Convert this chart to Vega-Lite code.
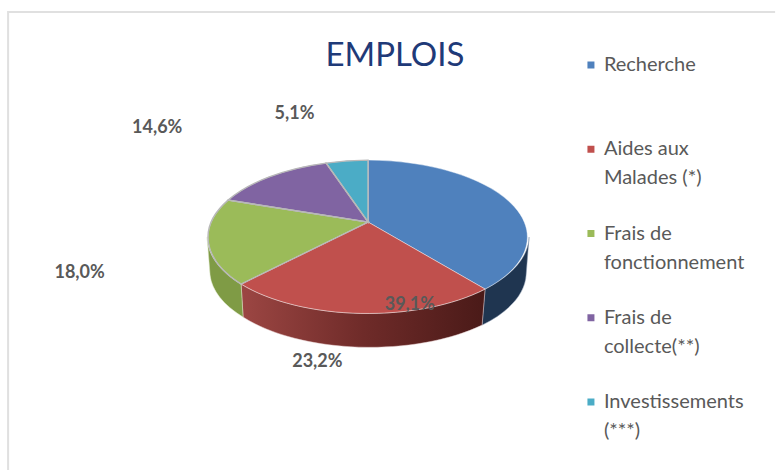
{
"$schema":"https://vega.github.io/schema/vega-lite/v6.json",
"width":777,"height":472,"padding":0,
"autosize":{"type":"fit","contains":"padding"},
"background":"#ffffff",
"view":{"stroke":null},
"config":{"font":"Lato"},
"datasets":{"postes":[
{"poste":"Recherche","part":39.1,"etiquette":"39,1%","rang":1},
{"poste":"Aides aux\nMalades (*)","part":23.2,"etiquette":"23,2%","rang":2},
{"poste":"Frais de\nfonctionnement","part":18.0,"etiquette":"18,0%","rang":3},
{"poste":"Frais de\ncollecte(**)","part":14.6,"etiquette":"14,6%","rang":4},
{"poste":"Investissements\n(***)","part":5.1,"etiquette":"5,1%","rang":5}
]},
"data":{"name":"postes"},
"resolve":{"scale":{"y":"independent"}},
"layer":[
{"mark":{"type":"point","filled":false,"size":4,"stroke":"#e0e0e0","strokeWidth":2,"opacity":1,"shape":"M-360,248L-360,-210L407,-210"},
 "transform":[{"filter":"datum.rang==1"}],
 "encoding":{"x":{"datum":370,"type":"quantitative","scale":{"domain":[0,777],"nice":false,"zero":false},"axis":null},
 "y":{"datum":224,"type":"quantitative","scale":{"domain":[0,472],"reverse":true,"nice":false,"zero":false},"axis":null}}},
{"mark":{"type":"point","filled":true,"size":4,"opacity":1,"fill":"#1f3550","stroke":"#8a9bb0","strokeWidth":0.5,"shape":"M161,15A161,77 0 0 1 117,67L114,103A158,75 0 0 0 158,53Z"},
 "transform":[{"filter":"datum.rang==1"}],
 "encoding":{"x":{"datum":370,"type":"quantitative","scale":{"domain":[0,777],"nice":false,"zero":false},"axis":null},
 "y":{"datum":224,"type":"quantitative","scale":{"domain":[0,472],"reverse":true,"nice":false,"zero":false},"axis":null}}},
{"mark":{"type":"point","filled":true,"size":4,"opacity":1,"stroke":"#e3c9c8","strokeWidth":0.5,"fill":{"gradient":"linear","x1":0,"x2":1,"y1":0,"y2":0,"stops":[{"offset":0,"color":"#9c4643"},{"offset":0.5,"color":"#6f2b29"},{"offset":1,"color":"#4a1a18"}]},"shape":"M117,67A161,77 0 0 1 -127,62L-125,95A158,75 0 0 0 114,103Z"},
 "transform":[{"filter":"datum.rang==2"}],
 "encoding":{"x":{"datum":370,"type":"quantitative","scale":{"domain":[0,777],"nice":false,"zero":false},"axis":null},
 "y":{"datum":224,"type":"quantitative","scale":{"domain":[0,472],"reverse":true,"nice":false,"zero":false},"axis":null}}},
{"mark":{"type":"point","filled":true,"size":4,"opacity":1,"stroke":"#dbe5c4","strokeWidth":0.5,"fill":"#7f9b45","shape":"M-127,62A161,77 0 0 1 -161,15L-158,53A158,75 0 0 0 -125,95Z"},
 "transform":[{"filter":"datum.rang==3"}],
 "encoding":{"x":{"datum":370,"type":"quantitative","scale":{"domain":[0,777],"nice":false,"zero":false},"axis":null},
 "y":{"datum":224,"type":"quantitative","scale":{"domain":[0,472],"reverse":true,"nice":false,"zero":false},"axis":null}}},
{"mark":{"type":"point","filled":true,"size":4,"opacity":1,"stroke":"#ffffff","strokeWidth":0.7,"strokeOpacity":0.6},
 "encoding":{"x":{"datum":370,"type":"quantitative","scale":{"domain":[0,777],"nice":false,"zero":false},"axis":null},
 "y":{"datum":224,"type":"quantitative","scale":{"domain":[0,472],"reverse":true,"nice":false,"zero":false},"axis":null},
 "fill":{"field":"poste","type":"nominal","legend":null,"sort":null,"scale":{"domain":["Recherche","Aides aux\nMalades (*)","Frais de\nfonctionnement","Frais de\ncollecte(**)","Investissements\n(***)"],"range":["#4f81bd","#c0504d","#9bbb59","#8064a2","#4bacc6"]}},
 "shape":{"field":"poste","type":"nominal","legend":null,"sort":null,"scale":{"domain":["Recherche","Aides aux\nMalades (*)","Frais de\nfonctionnement","Frais de\ncollecte(**)","Investissements\n(***)"],"range":["M0,0L0,-62A161,77 0 0 1 117,67Z","M0,0L117,67A161,77 0 0 1 -127,62Z","M0,0L-127,62A161,77 0 0 1 -140,-22Z","M0,0L-140,-22A161,77 0 0 1 -42,-59Z","M0,0L-42,-59A161,77 0 0 1 0,-62Z"]}}}},
{"mark":{"type":"point","filled":false,"size":4,"opacity":1,"stroke":"#b8b8b8","strokeWidth":1.4},
 "transform":[{"filter":"datum.rang>=3"}],
 "encoding":{"x":{"datum":370,"type":"quantitative","scale":{"domain":[0,777],"nice":false,"zero":false},"axis":null},
 "y":{"datum":224,"type":"quantitative","scale":{"domain":[0,472],"reverse":true,"nice":false,"zero":false},"axis":null},
 "shape":{"field":"poste","type":"nominal","legend":null,"sort":null,"scale":{"domain":["Frais de\nfonctionnement","Frais de\ncollecte(**)","Investissements\n(***)"],"range":["M-256,59L-245,59L-158,50","M-177,-90L-167,-90L-100,-47","M-45,-102L-34,-102L-20,-62"]}}}},
{"mark":{"type":"text","text":"EMPLOIS","font":"Lato","fontSize":33,"color":"#1f3a78"},
 "transform":[{"filter":"datum.rang==1"}],
 "encoding":{"x":{"datum":397,"type":"quantitative","scale":{"domain":[0,777],"nice":false,"zero":false},"axis":null},
 "y":{"datum":56,"type":"quantitative","scale":{"domain":[0,472],"reverse":true,"nice":false,"zero":false},"axis":null}}},
{"mark":{"type":"text","font":"Lato","fontWeight":"bold","fontSize":18,"color":"#595959"},
 "transform":[{"filter":"datum.rang==1"}],
 "encoding":{"text":{"field":"etiquette"},"x":{"datum":412,"type":"quantitative","scale":{"domain":[0,777],"nice":false,"zero":false},"axis":null},
 "y":{"datum":308,"type":"quantitative","scale":{"domain":[0,472],"reverse":true,"nice":false,"zero":false},"axis":null}}},
{"mark":{"type":"text","font":"Lato","fontWeight":"bold","fontSize":18,"color":"#595959"},
 "transform":[{"filter":"datum.rang==2"}],
 "encoding":{"text":{"field":"etiquette"},"x":{"datum":319,"type":"quantitative","scale":{"domain":[0,777],"nice":false,"zero":false},"axis":null},
 "y":{"datum":365,"type":"quantitative","scale":{"domain":[0,472],"reverse":true,"nice":false,"zero":false},"axis":null}}},
{"mark":{"type":"text","font":"Lato","fontWeight":"bold","fontSize":18,"color":"#595959"},
 "transform":[{"filter":"datum.rang==3"}],
 "encoding":{"text":{"field":"etiquette"},"x":{"datum":80,"type":"quantitative","scale":{"domain":[0,777],"nice":false,"zero":false},"axis":null},
 "y":{"datum":275,"type":"quantitative","scale":{"domain":[0,472],"reverse":true,"nice":false,"zero":false},"axis":null}}},
{"mark":{"type":"text","font":"Lato","fontWeight":"bold","fontSize":18,"color":"#595959"},
 "transform":[{"filter":"datum.rang==4"}],
 "encoding":{"text":{"field":"etiquette"},"x":{"datum":158,"type":"quantitative","scale":{"domain":[0,777],"nice":false,"zero":false},"axis":null},
 "y":{"datum":129,"type":"quantitative","scale":{"domain":[0,472],"reverse":true,"nice":false,"zero":false},"axis":null}}},
{"mark":{"type":"text","font":"Lato","fontWeight":"bold","fontSize":18,"color":"#595959"},
 "transform":[{"filter":"datum.rang==5"}],
 "encoding":{"text":{"field":"etiquette"},"x":{"datum":296,"type":"quantitative","scale":{"domain":[0,777],"nice":false,"zero":false},"axis":null},
 "y":{"datum":115,"type":"quantitative","scale":{"domain":[0,472],"reverse":true,"nice":false,"zero":false},"axis":null}}},
{"mark":{"type":"point","filled":true,"shape":"square","size":49,"opacity":1},
 "encoding":{"x":{"datum":594,"type":"quantitative","scale":{"domain":[0,777],"nice":false,"zero":false},"axis":null},
 "y":{"field":"rang","type":"quantitative","scale":{"domain":[1,5],"range":[65,402],"nice":false,"zero":false},"axis":null},
 "fill":{"field":"poste","type":"nominal","legend":null,"sort":null,"scale":{"domain":["Recherche","Aides aux\nMalades (*)","Frais de\nfonctionnement","Frais de\ncollecte(**)","Investissements\n(***)"],"range":["#4f81bd","#c0504d","#9bbb59","#8064a2","#4bacc6"]}}}},
{"mark":{"type":"text","font":"Lato","fontSize":20,"color":"#595959","align":"left","baseline":"alphabetic","lineBreak":"\n","lineHeight":29},
 "encoding":{"text":{"field":"poste"},"x":{"datum":607,"type":"quantitative","scale":{"domain":[0,777],"nice":false,"zero":false},"axis":null},
 "y":{"field":"rang","type":"quantitative","scale":{"domain":[1,5],"range":[71,408],"nice":false,"zero":false},"axis":null}}}
]}
